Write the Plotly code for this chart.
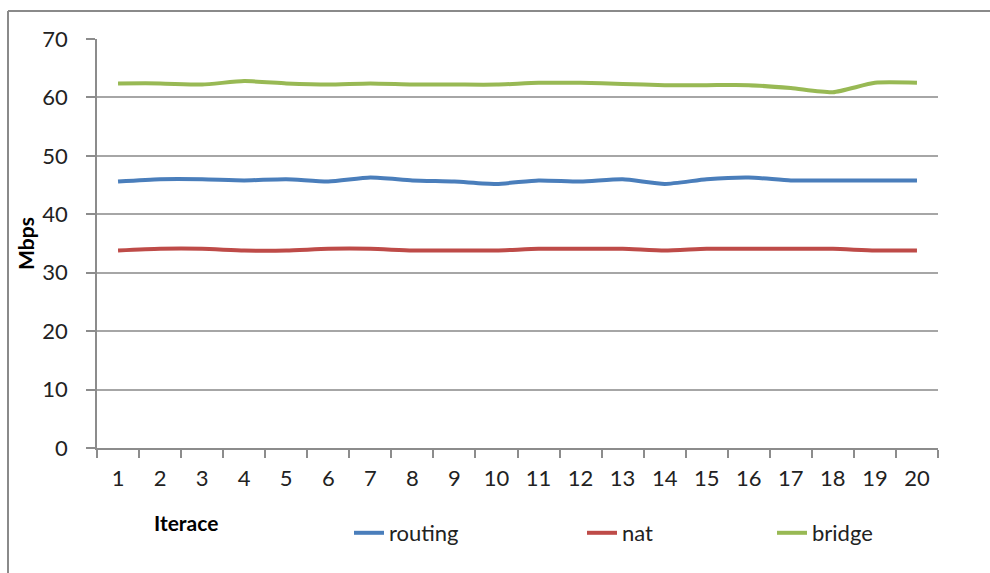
import plotly.graph_objects as go

# Throughput per iteration for the three network modes (Mbps)
iterations = [str(i) for i in range(1, 21)]
routing = [45.6, 46.0, 46.0, 45.8, 46.0, 45.6, 46.3, 45.8, 45.6, 45.2,
           45.8, 45.6, 46.0, 45.2, 46.0, 46.3, 45.8, 45.8, 45.8, 45.8]
nat = [33.8, 34.1, 34.1, 33.8, 33.8, 34.1, 34.1, 33.8, 33.8, 33.8,
       34.1, 34.1, 34.1, 33.8, 34.1, 34.1, 34.1, 34.1, 33.8, 33.8]
bridge = [62.4, 62.4, 62.2, 62.8, 62.4, 62.2, 62.4, 62.2, 62.2, 62.2,
          62.5, 62.5, 62.3, 62.1, 62.1, 62.1, 61.6, 60.9, 62.5, 62.5]

series_names = ["routing", "nat", "bridge"]
series_colors = ["#4A7EBB", "#BE4B48", "#98B954"]
series_values = [routing, nat, bridge]
legend_ids = ["legend", "legend2", "legend3"]

FONT = "Lato"

# plot area spans x=97..938 and y=39..448 on a 990x573 canvas
W, H = 990, 573
L, R, T, B = 97, 52, 39, 125
pw, ph = W - L - R, H - T - B


def px(x):
    return (x - L) / pw


def py(y):
    return (H - B - y) / ph


legend_x = [px(349), px(582), px(772)]

fig = go.Figure()
for name, color, vals, lid in zip(series_names, series_colors, series_values, legend_ids):
    fig.add_trace(go.Scatter(
        x=iterations, y=vals, name=name, mode="lines",
        line=dict(color=color, width=4, shape="spline", smoothing=0.6),
        legend=lid, showlegend=True,
    ))

legend_common = dict(
    orientation="h", xanchor="left", yanchor="middle", y=py(533),
    font=dict(family=FONT, size=22, color="#222222"),
    bgcolor="rgba(0,0,0,0)", itemwidth=30, visible=True,
)

fig.update_layout(
    width=W, height=H,
    margin=dict(l=L, r=R, t=T, b=B),
    paper_bgcolor="white", plot_bgcolor="white",
    showlegend=True,
    font=dict(family=FONT, size=22, color="#222222"),
    legend=dict(legend_common, x=legend_x[0]),
    legend2=dict(legend_common, x=legend_x[1]),
    legend3=dict(legend_common, x=legend_x[2]),
    xaxis=dict(
        type="category", range=[-0.5, 19.5],
        showline=True, linecolor="#8c8c8c", linewidth=1.5,
        ticks="outside", ticklen=8, tickcolor="#8c8c8c", tickwidth=1.5,
        tickson="boundaries", showgrid=False, zeroline=False,
        tickfont=dict(family=FONT, size=22, color="#222222"),
        ticklabelstandoff=10,
    ),
    yaxis=dict(
        range=[0, 70], dtick=10, tick0=0,
        showline=True, linecolor="#8c8c8c", linewidth=1.5,
        ticks="outside", ticklen=9, tickcolor="#8c8c8c", tickwidth=1.5,
        showgrid=True, gridcolor="#a6a6a6", gridwidth=1.5, zeroline=False,
        tickfont=dict(family=FONT, size=22, color="#222222"),
        ticklabelstandoff=14,
        title=dict(text="<b>Mbps</b>", font=dict(family=FONT, size=21, color="#000000"),
                   standoff=2),
    ),
    annotations=[dict(
        text="<b>Iterace</b>", xref="paper", yref="paper",
        x=px(186), y=py(522), xanchor="center", yanchor="middle",
        showarrow=False, font=dict(family=FONT, size=21, color="#000000"),
    )],
    shapes=[
        dict(type="line", xref="paper", yref="paper",
             x0=px(8), x1=px(W + 5), y0=py(11), y1=py(11),
             line=dict(color="#8a8a8a", width=2)),
        dict(type="line", xref="paper", yref="paper",
             x0=px(8), x1=px(8), y0=py(11), y1=py(H + 5),
             line=dict(color="#8a8a8a", width=2)),
    ],
)

fig.write_html("out.html")
